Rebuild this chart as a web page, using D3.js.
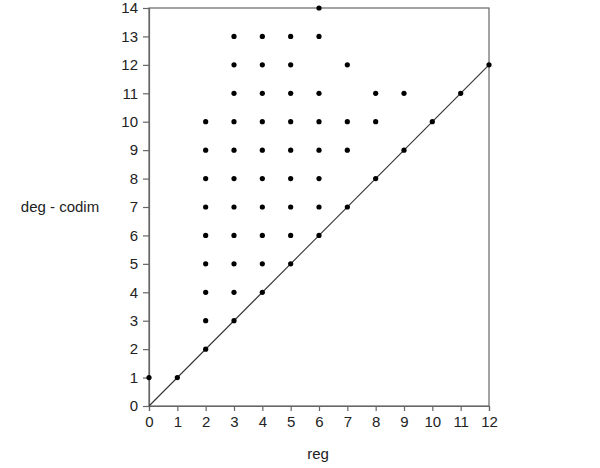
<!DOCTYPE html>
<html><head><meta charset="utf-8">
<script src="https://cdn.jsdelivr.net/npm/d3@7"></script>
<style>body{margin:0;background:#fff}svg{display:block}text{font-family:"Liberation Sans",Arial,sans-serif}</style>
</head><body>
<svg id="c" width="600" height="468"></svg>
<script>
const regValues = [0,1,2,2,2,2,2,2,2,2,2,3,3,3,3,3,3,3,3,3,3,3,4,4,4,4,4,4,4,4,4,4,5,5,5,5,5,5,5,5,5,6,6,6,6,6,6,6,6,7,7,7,7,8,8,8,9,9,10,11,12];
const degValues = [1,1,2,3,4,5,6,7,8,9,10,3,4,5,6,7,8,9,10,11,12,13,4,5,6,7,8,9,10,11,12,13,5,6,7,8,9,10,11,12,13,6,7,8,9,10,11,13,14,7,9,10,12,8,10,11,9,11,10,11,12];
const xTicks = [0,1,2,3,4,5,6,7,8,9,10,11,12];
const yTicks = [0,1,2,3,4,5,6,7,8,9,10,11,12,13,14];
const lineX = [0,12];
const lineY = [0,12];

const svg = d3.select("#c");
const L=149,R=489,T=8,B=406;
const x = d3.scaleLinear().domain([0,12]).range([L,R]);
const y = d3.scaleLinear().domain([0,14]).range([B,T]);
const axisColor="#666";
const fs = 15;

svg.append("rect").attr("x",L).attr("y",T).attr("width",R-L).attr("height",B-T)
  .attr("fill","none").attr("stroke",axisColor).attr("stroke-width",1.2);

const gx = svg.append("g").attr("transform",`translate(0,${B})`)
  .call(d3.axisBottom(x).tickValues(xTicks).tickSize(5).tickPadding(5));
const gy = svg.append("g").attr("transform",`translate(${L},0)`)
  .call(d3.axisLeft(y).tickValues(yTicks).tickSize(6).tickPadding(5));
[gx,gy].forEach(g=>{
  g.select(".domain").attr("stroke",axisColor).attr("stroke-width",1.2);
  g.selectAll(".tick line").attr("stroke",axisColor).attr("stroke-width",1.2);
  g.selectAll(".tick text").attr("font-size",fs).attr("fill","#222")
   .attr("font-family",'"Liberation Sans",Arial,sans-serif');
});

svg.append("line").attr("x1",x(lineX[0])).attr("y1",y(lineY[0]))
  .attr("x2",x(lineX[1])).attr("y2",y(lineY[1]))
  .attr("stroke","#333").attr("stroke-width",1.1);

svg.append("g").selectAll("circle").data(regValues.map((r,i)=>[r,degValues[i]]))
  .join("circle").attr("cx",d=>x(d[0])).attr("cy",d=>y(d[1])).attr("r",2.6).attr("fill","#000");

svg.append("text").attr("x",318).attr("y",459).attr("text-anchor","middle")
  .attr("font-size",fs).attr("fill","#222").text("reg");
svg.append("text").attr("x",60).attr("y",y(7)+5).attr("text-anchor","middle")
  .attr("font-size",fs).attr("fill","#222").text("deg - codim");
</script>
</body></html>
